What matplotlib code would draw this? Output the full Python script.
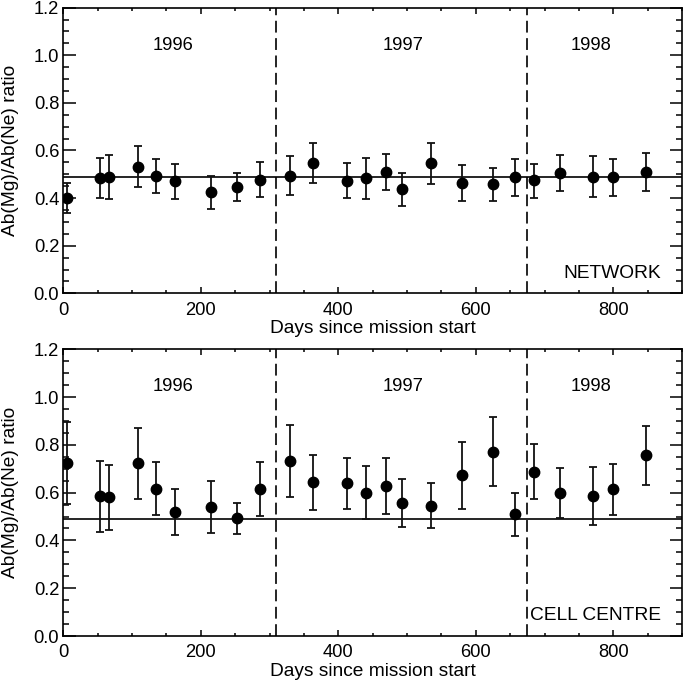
import matplotlib
matplotlib.use("Agg")
import matplotlib.pyplot as plt
from matplotlib.ticker import MultipleLocator
import numpy as np

plt.rcParams['font.family'] = ['Liberation Sans', 'DejaVu Sans']
plt.rcParams['lines.scale_dashes'] = False

days = [6, 53, 67, 108, 135, 163, 215, 252, 286, 330, 363, 413, 440, 469,
        492, 535, 580, 625, 657, 684, 723, 770, 800, 847]

net_val = [0.399, 0.486, 0.487, 0.532, 0.491, 0.471, 0.425, 0.446, 0.477,
           0.494, 0.547, 0.473, 0.483, 0.511, 0.437, 0.546, 0.463,
           0.458, 0.487, 0.475, 0.505, 0.489, 0.487, 0.510]
net_hi = [0.465, 0.570, 0.580, 0.618, 0.566, 0.545, 0.494, 0.507, 0.550,
          0.578, 0.630, 0.546, 0.567, 0.587, 0.505, 0.633, 0.540,
          0.528, 0.564, 0.545, 0.581, 0.577, 0.563, 0.588]
net_lo = [0.336, 0.399, 0.396, 0.445, 0.421, 0.396, 0.356, 0.388, 0.403,
          0.413, 0.463, 0.400, 0.397, 0.434, 0.368, 0.459, 0.387,
          0.388, 0.410, 0.402, 0.430, 0.403, 0.410, 0.429]

cell_val = [0.723, 0.585, 0.581, 0.723, 0.617, 0.519, 0.540, 0.493, 0.617,
            0.733, 0.643, 0.639, 0.600, 0.629, 0.557, 0.546, 0.675,
            0.771, 0.509, 0.688, 0.599, 0.585, 0.614, 0.756]
cell_hi = [0.897, 0.734, 0.717, 0.872, 0.728, 0.615, 0.649, 0.558, 0.728,
           0.883, 0.758, 0.745, 0.712, 0.745, 0.657, 0.639, 0.813,
           0.915, 0.599, 0.804, 0.705, 0.706, 0.721, 0.880]
cell_lo = [0.553, 0.434, 0.445, 0.575, 0.505, 0.421, 0.430, 0.427, 0.502,
           0.582, 0.527, 0.530, 0.488, 0.512, 0.458, 0.452, 0.533,
           0.628, 0.420, 0.572, 0.493, 0.465, 0.508, 0.633]

mean_ratio = 0.49
year_bounds = [310, 675]
years = ["1996", "1997", "1998"]
year_x = [160, 494, 767]
panel_labels = ["NETWORK", "CELL CENTRE"]

fig = plt.figure(figsize=(6.85, 6.85), dpi=100)
ax_top = fig.add_axes([0.0924, 0.5718, 0.9033, 0.4170])
ax_bot = fig.add_axes([0.0924, 0.0715, 0.9033, 0.4186])

FS = 13.2
FL = 13.8
for ax, val, hi, lo, lab in [(ax_top, net_val, net_hi, net_lo, panel_labels[0]),
                             (ax_bot, cell_val, cell_hi, cell_lo, panel_labels[1])]:
    v = np.array(val)
    yerr = np.vstack([v - np.array(lo), np.array(hi) - v])
    ax.errorbar(days, v, yerr=yerr, fmt='o', color='black', ms=7.5,
                ecolor='#111111', elinewidth=1.3, capsize=3.2, capthick=1.3, zorder=3)
    ax.axhline(mean_ratio, color='black', lw=1.2, zorder=2)
    for xb in year_bounds:
        ax.axvline(xb, color='black', lw=1.2, dashes=(8.5, 4), zorder=1)
    for yx, yt in zip(year_x, years):
        ax.text(yx, 1.043, yt, ha='center', va='center', fontsize=FS)
    ax.text(869, 0.084, lab, ha='right', va='center', fontsize=FL)
    ax.set_xlim(0, 900)
    ax.set_ylim(0, 1.2)
    ax.xaxis.set_major_locator(MultipleLocator(200))
    ax.xaxis.set_minor_locator(MultipleLocator(50))
    ax.yaxis.set_major_locator(MultipleLocator(0.2))
    ax.yaxis.set_minor_locator(MultipleLocator(0.05))
    ax.yaxis.set_major_formatter(matplotlib.ticker.FormatStrFormatter('%.1f'))
    ax.tick_params(axis='both', which='both', direction='in', top=True, right=True,
                   labelsize=FS, width=1.1)
    ax.tick_params(axis='x', which='major', length=4.2, pad=6)
    ax.tick_params(axis='x', which='minor', length=2.2)
    ax.tick_params(axis='y', which='major', length=9, pad=3)
    ax.tick_params(axis='y', which='minor', length=4.5)
    for sp in ax.spines.values():
        sp.set_linewidth(1.2)
    ax.set_xlabel("Days since mission start", fontsize=FL)
    ax.xaxis.set_label_coords(0.5, -0.093)
    ax.set_ylabel("Ab(Mg)/Ab(Ne) ratio", fontsize=FL)
    ax.yaxis.set_label_coords(-0.071, 0.5)

fig.savefig("out.png", dpi=100)
